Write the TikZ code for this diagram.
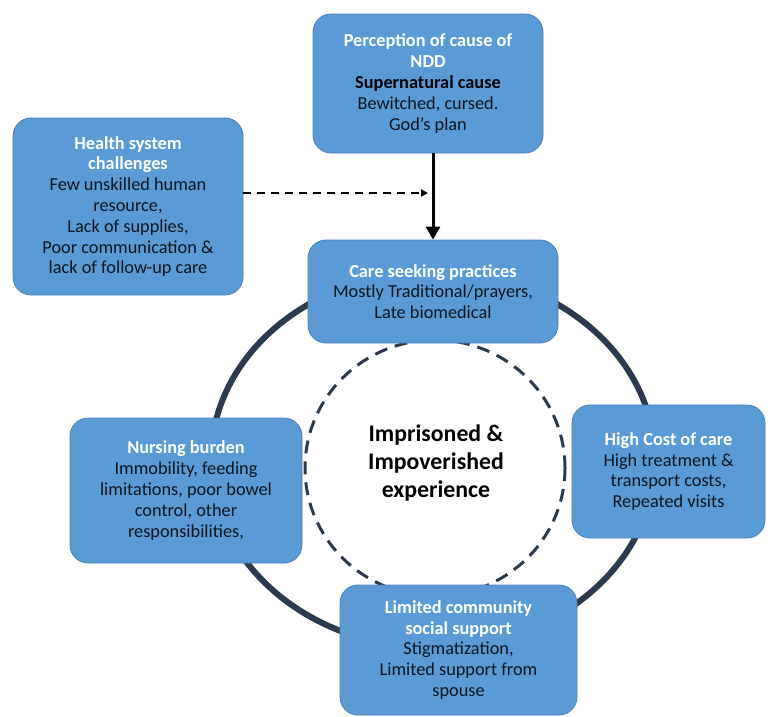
\documentclass[tikz,border=0pt]{standalone}
\usepackage{fontspec}
\setmainfont{Carlito}
\usetikzlibrary{positioning}
\usetikzlibrary{arrows.meta}
\definecolor{boxblue}{HTML}{5B9BD5}
\definecolor{boxedge}{HTML}{4A7EBB}
\definecolor{ringnavy}{HTML}{2C3A4E}
\definecolor{bodyink}{HTML}{0E1620}
\tikzset{themebox/.style = {draw=boxedge, fill=boxblue, line width=0.8pt,
                            rounded corners=18pt, align=center, inner sep=0pt,
                            text=bodyink, font=\fontsize{18.3}{20.8}\selectfont}}
\tikzset{ring/.style = {draw=ringnavy, line width=6pt}}
\tikzset{innerring/.style = {draw=ringnavy, line width=3pt, dash pattern=on 13pt off 8pt}}
\newcommand{\boxhead}[1]{\textcolor{white}{\bfseries #1}}

\begin{document}
\begin{tikzpicture}[x=1pt, y=-1pt]
      \useasboundingbox (0,0) rectangle (768,716);

      % rings behind the boxes
      \coordinate (ringc) at (433,460);
      \coordinate (innerc) at (435,468);
      \draw[ring] (ringc) ellipse [x radius=222, y radius=188];
      \draw[innerring] (innerc) ellipse [x radius=130, y radius=128];

      \node[font=\fontsize{23.8}{27.6}\selectfont\bfseries, align=center, text=black]
            (core) at (436,463) {Imprisoned \&\\Impoverished\\experience};

      \node[themebox, minimum width=230pt, minimum height=139pt] (cause) at (428,83.5)
            {\boxhead{Perception of cause of}\\\boxhead{NDD}\\
             \textcolor{black}{\bfseries Supernatural cause}\\Bewitched, cursed.\\God’s plan};
      \node[themebox, minimum width=230pt, minimum height=177pt] (health) at (128,206.5)
            {\boxhead{Health system}\\\boxhead{challenges}\\Few unskilled human\\resource,\\
             Lack of supplies,\\Poor communication \&\\lack of follow-up care};
      \node[themebox, minimum width=250pt, minimum height=103pt] (care) at (433,291.5)
            {\boxhead{Care seeking practices}\\Mostly Traditional/prayers,\\Late biomedical};
      \node[themebox, minimum width=193pt, minimum height=133pt] (cost) at (668.5,471.5)
            {\boxhead{High Cost of care}\\High treatment \&\\transport costs,\\Repeated visits};
      \node[themebox, minimum width=237pt, minimum height=130pt] (community) at (458.5,650)
            {\boxhead{Limited community}\\\boxhead{social support}\\Stigmatization,\\
             Limited support from\\spouse};
      \node[themebox, minimum width=232pt, minimum height=145pt] (nursing) at (186,490.5)
            {\boxhead{Nursing burden}\\Immobility, feeding\\limitations, poor bowel\\
             control, other\\responsibilities,};

      % arrows
      \draw[line width=3pt, -{Triangle[length=13pt, width=14pt]}]
            (care.north |- cause.south) -- (care.north);
      \coordinate (hit) at (428,193);
      \draw[line width=1.6pt, dash pattern=on 8pt off 6pt, -{Triangle[length=7pt, width=7pt]}]
            (health.east |- hit) -- (hit);
\end{tikzpicture}
\end{document}
